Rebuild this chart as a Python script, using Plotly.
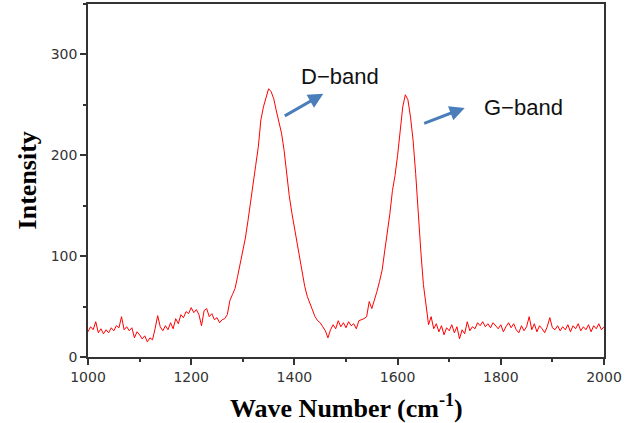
import plotly.graph_objects as go

wavenumber_start = 1000
wavenumber_step = 5
intensity = [
    25, 30, 27, 35, 24, 28, 23, 27, 24, 29,      # 1000-1045
    26, 31, 29, 40, 27, 30, 26, 29, 19, 25,      # 1050-1095
    22, 18, 21, 15, 19, 17, 28, 41, 30, 26,      # 1100-1145
    31, 27, 34, 28, 38, 33, 42, 39, 45, 43,      # 1150-1195
    49, 44, 47, 42, 31, 46, 48, 40, 43, 37,      # 1200-1245
    39, 34, 37, 38, 42, 56, 62, 68, 80, 92,      # 1250-1295
    105, 118, 135, 152, 172, 190, 208, 235, 248, 256,  # 1300-1345
    266, 263, 256, 244, 233, 222, 205, 182, 160, 143,  # 1350-1395
    128, 112, 97, 84, 70, 60, 53, 46, 40, 36,    # 1400-1445
    34, 30, 26, 19, 27, 32, 28, 36, 30, 34,      # 1450-1495
    29, 35, 31, 33, 28, 36, 37, 38, 40, 55,      # 1500-1545
    48, 56, 65, 75, 86, 105, 122, 142, 165, 180,  # 1550-1595
    200, 222, 248, 260, 255, 238, 215, 182, 140, 105,  # 1600-1645
    72, 52, 32, 40, 28, 33, 25, 31, 22, 29,      # 1650-1695
    26, 32, 24, 30, 18, 27, 23, 35, 26, 30,      # 1700-1745
    28, 34, 31, 35, 30, 33, 29, 34, 31, 28,      # 1750-1795
    32, 25, 30, 34, 29, 33, 27, 24, 31, 26,      # 1800-1845
    30, 40, 27, 33, 25, 31, 28, 24, 30, 39,      # 1850-1895
    29, 27, 31, 26, 30, 27, 32, 25, 31, 28,      # 1900-1945
    33, 26, 30, 27, 32, 25, 31, 28, 33, 27,      # 1950-1995
    30,                                          # 2000
]
wavenumber = [wavenumber_start + i * wavenumber_step for i in range(len(intensity))]

x_ticks = [1000, 1200, 1400, 1600, 1800, 2000]
y_ticks = [0, 100, 200, 300]
band_labels = ["D\u2212band", "G\u2212band"]
label_pos = [(1488, 278), (1844, 247)]
arrow_heads = [(1456, 261), (1730, 247)]

fig = go.Figure()
fig.add_trace(go.Scatter(x=wavenumber, y=intensity, mode="lines",
                         line=dict(color="#ff0000", width=1), showlegend=False,
                         hoverinfo="skip"))

for (hx, hy), off in zip(arrow_heads, [(-40, 23), (-42, 16)]):
    fig.add_annotation(x=hx, y=hy, ax=off[0], ay=off[1], showarrow=True,
                       arrowhead=2, arrowsize=1, arrowwidth=3, arrowcolor="#4a7ebb", text="")
for lab, (lx, ly) in zip(band_labels, label_pos):
    fig.add_annotation(x=lx, y=ly, text=lab, showarrow=False,
                       font=dict(family="Liberation Sans, Arial", size=22, color="#111"))

# axis titles
fig.add_annotation(xref="paper", yref="paper", x=-0.1165, y=0.5, textangle=-90,
                   xanchor="center", yanchor="middle",
                   text="<b>Intensity</b>", showarrow=False,
                   font=dict(family="Liberation Serif, Times New Roman", size=26, color="#000"))
fig.add_annotation(xref="paper", yref="paper", x=0.5, y=-0.1416,
                   xanchor="center", yanchor="middle",
                   text="<b>Wave Number (cm<sup>-1</sup>)</b>", showarrow=False,
                   font=dict(family="Liberation Serif, Times New Roman", size=26, color="#000"))

axis_common = dict(showline=True, linecolor="#333", linewidth=1.5, mirror=True,
                   ticks="outside", ticklen=6, tickwidth=1.5, tickcolor="#333",
                   showgrid=False, zeroline=False, automargin=False,
                   tickfont=dict(family="DejaVu Sans, Verdana", size=14, color="#333"))

fig.update_xaxes(range=[1000, 2000], tickvals=x_ticks,
                 minor=dict(ticks="outside", ticklen=3, tickcolor="#333", dtick=100, tick0=1000),
                 **axis_common)
fig.update_yaxes(range=[0, 350], tickvals=y_ticks,
                 minor=dict(ticks="outside", ticklen=3, tickcolor="#333", dtick=50, tick0=0),
                 **axis_common)

fig.update_layout(width=629, height=423, margin=dict(l=88, r=25, t=4, b=66),
                  paper_bgcolor="white", plot_bgcolor="white")
fig.write_html("out.html", config={"displayModeBar": False},
               post_script="document.body.style.margin='0';document.body.style.overflow='hidden';")
